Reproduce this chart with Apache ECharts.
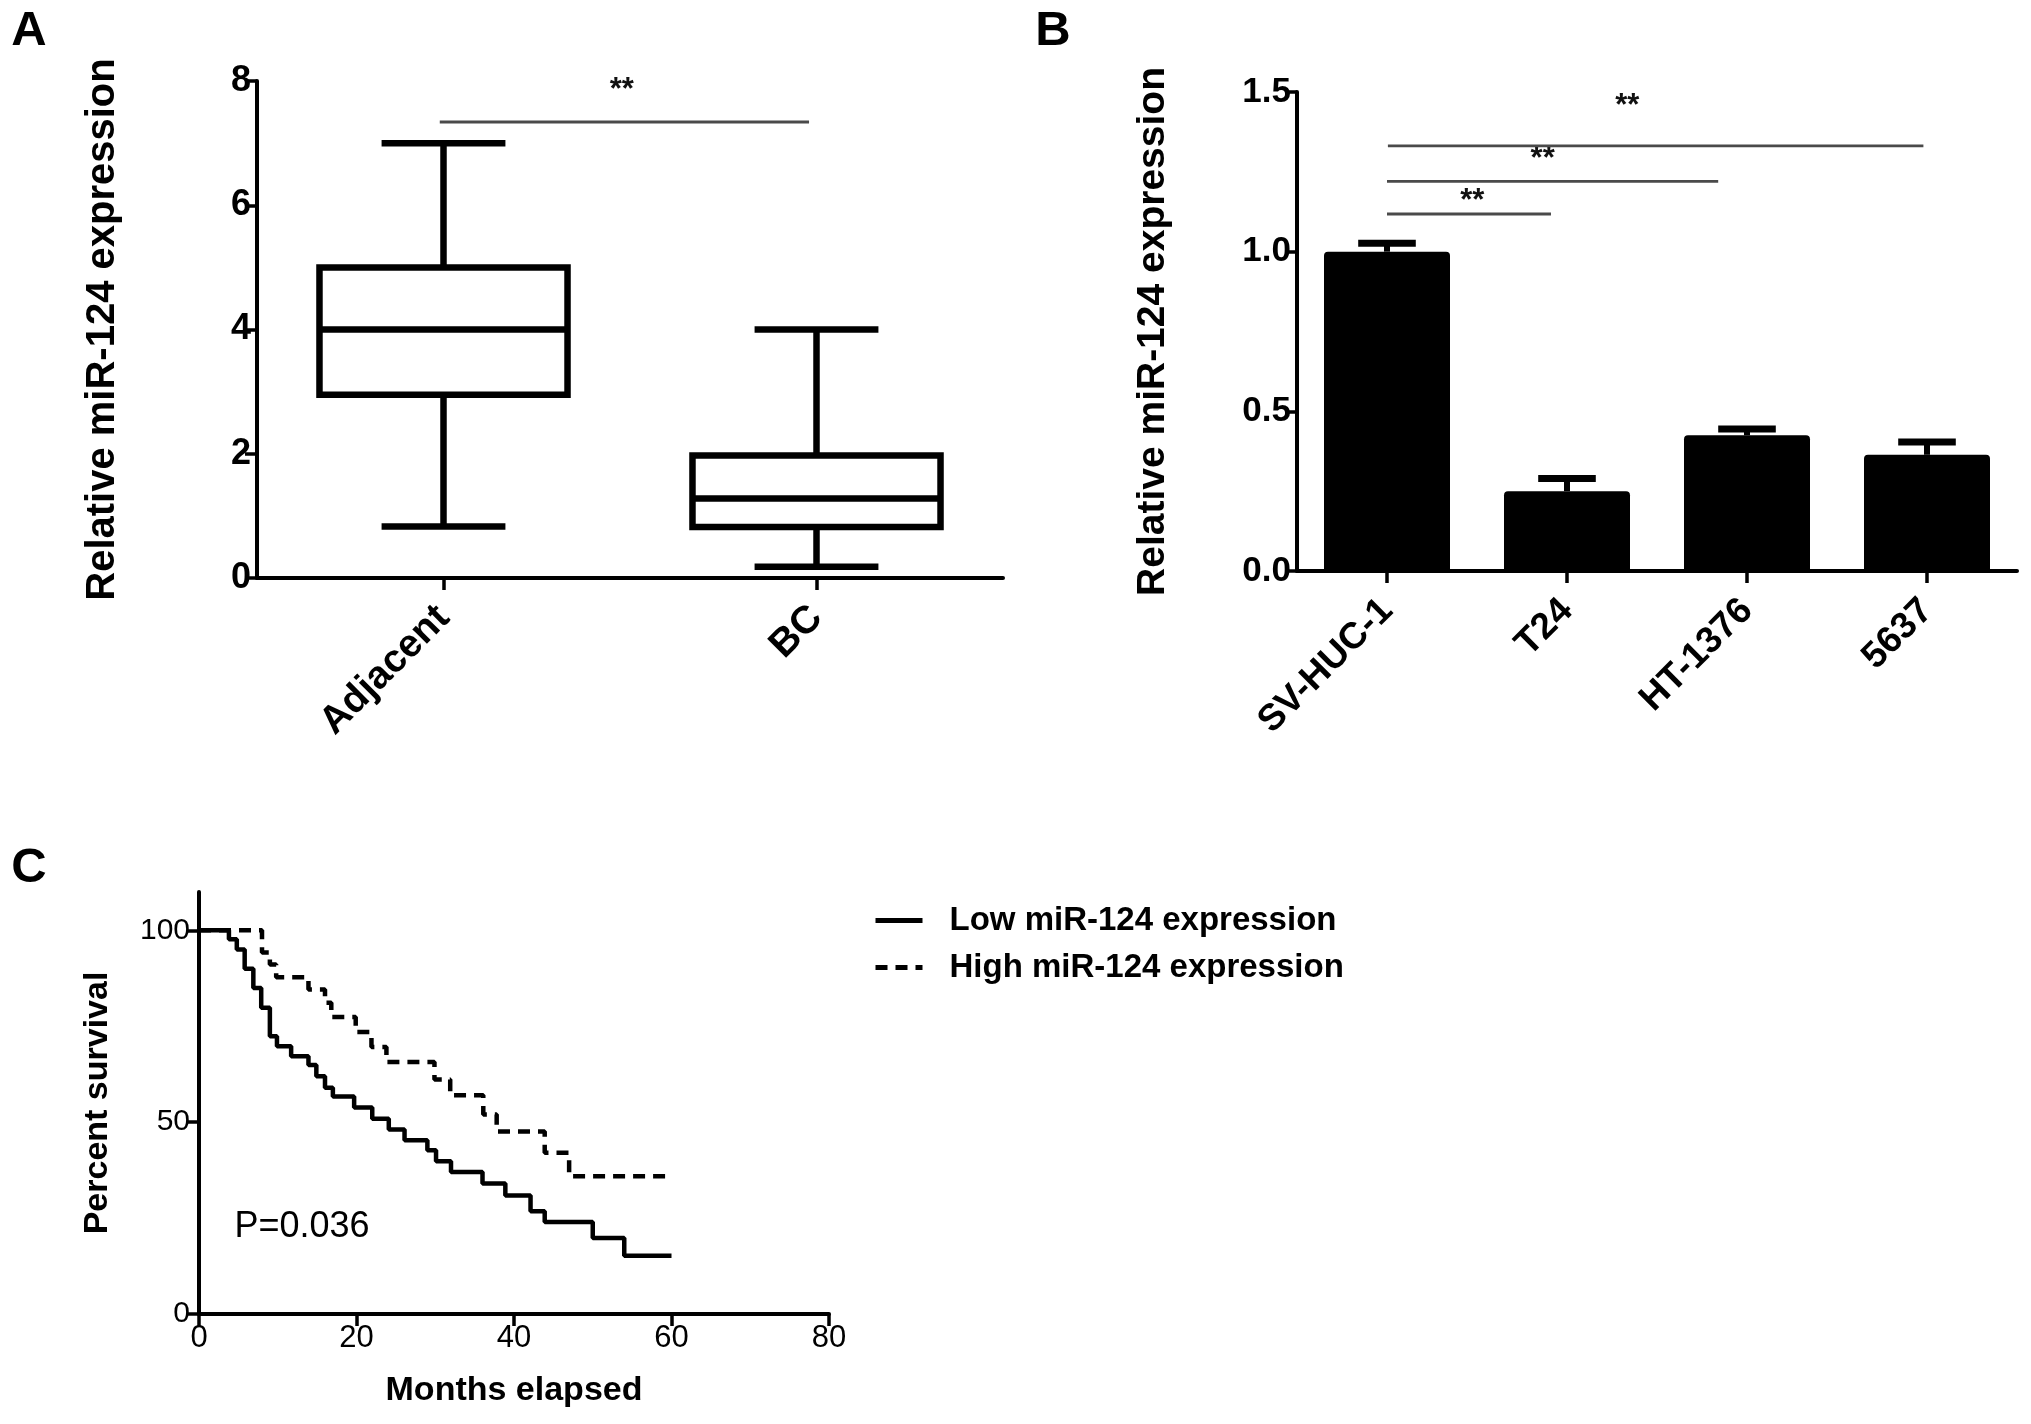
<!DOCTYPE html>
<html>
<head>
<meta charset="utf-8">
<script src="https://cdn.jsdelivr.net/npm/echarts@6/dist/echarts.min.js"></script>
<style>
html,body{margin:0;padding:0;background:#ffffff;}
#chart{width:2031px;height:1424px;}
</style>
</head>
<body>
<div id="chart"></div>
<script>
// ---------- Panel A : tissue box plot ----------
const tissueCategories = ['Adjacent', 'BC'];
// [min, Q1, median, Q3, max]
const boxAdjacent = [0.83, 2.95, 4.0, 5.0, 7.0];
const boxBC = [0.18, 0.82, 1.28, 1.97, 4.0];
const yTicksA = [0, 2, 4, 6, 8];
// significance: [fromIndex, toIndex, lineValue, starValue]
const sigA = [[0, 1, 7.34, 7.84]];

// ---------- Panel B : cell line bars ----------
const cellCategories = ['SV-HUC-1', 'T24', 'HT-1376', '5637'];
const cellMeans = [1.0, 0.25, 0.425, 0.364];
const cellErrors = [0.026, 0.04, 0.02, 0.04];
const yTicksB = [0, 0.5, 1.0, 1.5];
const sigB = [[0, 1, 1.118, 1.156], [0, 2, 1.22, 1.288], [0, 3, 1.331, 1.456]];
const sigText = '**';

// ---------- Panel C : Kaplan-Meier ----------
const lowMonths   = [0, 3.8, 4.8, 5.8, 6.9, 7.9, 9.0, 9.9, 11.7, 13.9, 14.9, 16.0, 17.0, 19.7, 22.0, 24.1, 26.1, 29.0, 30.1, 32.0, 36.0, 38.9, 42.1, 43.9, 50.0, 54.0, 60.0];
const lowSurvival = [100, 97.7, 95.0, 90.0, 85.0, 79.8, 72.4, 69.8, 67.2, 64.9, 62.0, 59.0, 56.7, 53.8, 50.9, 48.1, 45.3, 42.7, 39.8, 37.0, 34.0, 30.9, 26.8, 24.0, 19.8, 15.2, 15.2];
const highMonths   = [0, 8.0, 9.0, 9.8, 13.9, 16.0, 16.8, 19.9, 21.9, 23.8, 29.9, 31.9, 36.1, 37.8, 43.9, 47.0, 60.0];
const highSurvival = [100, 94.2, 91.1, 87.8, 84.6, 81.1, 77.4, 73.5, 69.6, 65.7, 61.1, 57.0, 52.0, 47.6, 42.0, 35.9, 35.9];
const seriesNamesC = ['Low miR-124 expression', 'High miR-124 expression'];
const pValueText = 'P=0.036';
const pValuePos = [4.5, 22.6];
const xTicksC = [0, 20, 40, 60, 80];
const yTicksC = [0, 50, 100];

// ---------- styling helpers (not data) ----------
const FONT = "'Liberation Sans', Arial, Helvetica, sans-serif";
const BLACK = '#000000';
const sigStyleA = { startOff: [-0.01], endOff: [-0.02], starT: [0.493] };
const sigStyleB = { startOff: [0, 0, 0.005], endOff: [-0.089, -0.16, -0.02], starT: [0.52, 0.47, 0.447] };

function sigRenderer(st) {
  return function (params, api) {
    const i = params.dataIndex;
    const band = api.size([1, 0])[0];
    const p1 = api.coord([api.value(0), api.value(2)]);
    const p2 = api.coord([api.value(1), api.value(2)]);
    const x1 = p1[0] + st.startOff[i] * band;
    const x2 = p2[0] + st.endOff[i] * band;
    const ys = api.coord([api.value(0), api.value(3)])[1];
    return {
      type: 'group',
      children: [
        { type: 'line', shape: { x1: x1, y1: p1[1], x2: x2, y2: p1[1] },
          style: { stroke: '#4a4a4a', lineWidth: 2.8 } },
        { type: 'text', x: x1 + st.starT[i] * (x2 - x1), y: ys,
          style: { text: sigText, fill: '#111111', font: 'bold 31px ' + FONT, align: 'center', verticalAlign: 'middle' } }
      ]
    };
  };
}

function boxRenderer(params, api) {
  const idx = api.value(0);
  const band = api.size([1, 0])[0];
  const cx = api.coord([idx, 0])[0];
  const bw = band * 0.665 / 2;
  const cw = band * 0.332 / 2;
  const y = k => api.coord([idx, api.value(k)])[1];
  const st = { stroke: BLACK, lineWidth: 6.5, fill: null };
  return {
    type: 'group',
    children: [
      { type: 'line', shape: { x1: cx, y1: y(5), x2: cx, y2: y(4) }, style: st },
      { type: 'line', shape: { x1: cx, y1: y(2), x2: cx, y2: y(1) }, style: st },
      { type: 'line', shape: { x1: cx - cw, y1: y(5), x2: cx + cw, y2: y(5) }, style: st },
      { type: 'line', shape: { x1: cx - cw, y1: y(1), x2: cx + cw, y2: y(1) }, style: st },
      { type: 'rect', shape: { x: cx - bw, y: y(4), width: 2 * bw, height: y(2) - y(4) }, style: { stroke: BLACK, lineWidth: 6.5, fill: '#ffffff' } },
      { type: 'line', shape: { x1: cx - bw, y1: y(3), x2: cx + bw, y2: y(3) }, style: st }
    ]
  };
}

function errRenderer(params, api) {
  const idx = api.value(0);
  const band = api.size([1, 0])[0];
  const top = api.coord([idx, api.value(1)]);
  const cap = api.coord([idx, api.value(2)]);
  const cw = band * 0.16;
  return {
    type: 'group',
    children: [
      { type: 'line', shape: { x1: top[0], y1: top[1], x2: top[0], y2: cap[1] }, style: { stroke: BLACK, lineWidth: 6 } },
      { type: 'line', shape: { x1: top[0] - cw, y1: cap[1], x2: top[0] + cw, y2: cap[1] }, style: { stroke: BLACK, lineWidth: 7 } }
    ]
  };
}

const axisLineStyle = { show: true, lineStyle: { color: BLACK, width: 4 } };
const tickStyle = { show: true, inside: false, length: 12, lineStyle: { color: BLACK, width: 3.5 } };

const chart = echarts.init(document.getElementById('chart'), null, { renderer: 'canvas' });

const option = {
  backgroundColor: '#ffffff',
  animation: false,
  textStyle: { fontFamily: FONT, color: BLACK },
  graphic: [
    { type: 'text', x: 29, y: 31, style: { text: 'A', font: 'bold 49px ' + FONT, fill: BLACK, align: 'center', verticalAlign: 'middle' } },
    { type: 'text', x: 1053, y: 31, style: { text: 'B', font: 'bold 49px ' + FONT, fill: BLACK, align: 'center', verticalAlign: 'middle' } },
    { type: 'text', x: 29, y: 868, style: { text: 'C', font: 'bold 49px ' + FONT, fill: BLACK, align: 'center', verticalAlign: 'middle' } }
  ],
  legend: {
    orient: 'vertical',
    left: 868,
    top: 899,
    itemWidth: 47,
    itemHeight: 14,
    itemGap: 14,
    data: seriesNamesC,
    itemStyle: { opacity: 0 },
    lineStyle: { width: 5 },
    textStyle: { fontFamily: FONT, fontSize: 33, fontWeight: 'bold', color: BLACK, padding: [0, 0, 0, 22] }
  },
  grid: [
    { left: 257, top: 81, width: 746, height: 497 },
    { left: 1297, top: 92, width: 720, height: 479 },
    { left: 199, top: 892, width: 630, height: 422 }
  ],
  xAxis: [
    {
      gridIndex: 0, type: 'category', data: tissueCategories, boundaryGap: true,
      axisLine: axisLineStyle,
      axisTick: Object.assign({ alignWithLabel: true }, tickStyle),
      axisLabel: { rotate: 45, margin: 34, fontSize: 39, fontWeight: 'bold', color: BLACK, fontFamily: FONT, interval: 0 },
      splitLine: { show: false }
    },
    {
      gridIndex: 1, type: 'category', data: cellCategories, boundaryGap: true,
      axisLine: axisLineStyle,
      axisTick: Object.assign({ alignWithLabel: true }, tickStyle),
      axisLabel: { rotate: 45, margin: 34, fontSize: 37, fontWeight: 'bold', color: BLACK, fontFamily: FONT, interval: 0 },
      splitLine: { show: false }
    },
    {
      gridIndex: 2, type: 'value', min: xTicksC[0], max: xTicksC[xTicksC.length - 1], interval: 20,
      axisLine: axisLineStyle, axisTick: tickStyle,
      axisLabel: { margin: 9, fontSize: 31, color: BLACK, fontFamily: FONT },
      splitLine: { show: false },
      name: 'Months elapsed', nameLocation: 'middle', nameGap: 60,
      nameTextStyle: { fontSize: 34, fontWeight: 'bold', color: BLACK, fontFamily: FONT }
    }
  ],
  yAxis: [
    {
      gridIndex: 0, type: 'value', min: yTicksA[0], max: yTicksA[yTicksA.length - 1], interval: 2,
      axisLine: axisLineStyle, axisTick: tickStyle,
      axisLabel: { margin: 6, fontSize: 36, fontWeight: 'bold', color: BLACK, fontFamily: FONT },
      splitLine: { show: false },
      name: 'Relative miR-124 expression', nameLocation: 'middle', nameGap: 134, nameRotate: 90,
      nameTextStyle: { fontSize: 40, fontWeight: 'bold', color: BLACK, fontFamily: FONT }
    },
    {
      gridIndex: 1, type: 'value', min: yTicksB[0], max: yTicksB[yTicksB.length - 1], interval: 0.5,
      axisLine: axisLineStyle, axisTick: tickStyle,
      axisLabel: { margin: 6, fontSize: 35, fontWeight: 'bold', color: BLACK, fontFamily: FONT,
                   formatter: v => v.toFixed(1) },
      splitLine: { show: false },
      name: 'Relative miR-124 expression', nameLocation: 'middle', nameGap: 124, nameRotate: 90,
      nameTextStyle: { fontSize: 39, fontWeight: 'bold', color: BLACK, fontFamily: FONT }
    },
    {
      gridIndex: 2, type: 'value', min: 0, max: 110, interval: 50,
      axisLine: axisLineStyle,
      axisTick: Object.assign({ customValues: yTicksC }, tickStyle),
      axisLabel: { customValues: yTicksC, margin: 9, fontSize: 30, color: BLACK, fontFamily: FONT },
      splitLine: { show: false },
      name: 'Percent survival', nameLocation: 'middle', nameGap: 84, nameRotate: 90,
      nameTextStyle: { fontSize: 34, fontWeight: 'bold', color: BLACK, fontFamily: FONT }
    }
  ],
  series: [
    {
      type: 'custom', name: 'box', xAxisIndex: 0, yAxisIndex: 0,
      renderItem: boxRenderer,
      encode: { x: 0, y: [1, 2, 3, 4, 5] },
      data: [[0].concat(boxAdjacent), [1].concat(boxBC)],
      z: 3
    },
    {
      type: 'custom', name: 'sigA', xAxisIndex: 0, yAxisIndex: 0,
      renderItem: sigRenderer(sigStyleA),
      encode: { x: [0, 1], y: [2, 3] },
      data: sigA, z: 4
    },
    {
      type: 'bar', name: 'cells', xAxisIndex: 1, yAxisIndex: 1,
      data: cellMeans, barWidth: '70%',
      itemStyle: { color: BLACK, borderRadius: [4, 4, 0, 0] }, z: 2
    },
    {
      type: 'custom', name: 'err', xAxisIndex: 1, yAxisIndex: 1,
      renderItem: errRenderer,
      encode: { x: 0, y: [1, 2] },
      data: cellMeans.map((m, i) => [i, m, m + cellErrors[i]]), z: 3
    },
    {
      type: 'custom', name: 'sigB', xAxisIndex: 1, yAxisIndex: 1,
      renderItem: sigRenderer(sigStyleB),
      encode: { x: [0, 1], y: [2, 3] },
      data: sigB, z: 4
    },
    {
      type: 'line', name: seriesNamesC[0], xAxisIndex: 2, yAxisIndex: 2,
      step: 'end', symbol: 'none', showSymbol: false,
      lineStyle: { color: BLACK, width: 4.5, type: 'solid' },
      itemStyle: { color: BLACK },
      data: lowMonths.map((m, i) => [m, lowSurvival[i]]), z: 3
    },
    {
      type: 'line', name: seriesNamesC[1], xAxisIndex: 2, yAxisIndex: 2,
      step: 'end', symbol: 'none', showSymbol: false,
      lineStyle: { color: BLACK, width: 4.5, type: [12, 8] },
      itemStyle: { color: BLACK },
      data: highMonths.map((m, i) => [m, highSurvival[i]]), z: 3
    },
    {
      type: 'scatter', name: 'pvalue', xAxisIndex: 2, yAxisIndex: 2,
      symbolSize: 0, data: [pValuePos], silent: true,
      itemStyle: { opacity: 1, color: BLACK },
      label: { show: true, position: 'right', distance: 0, formatter: pValueText,
               fontSize: 36, color: '#000000', opacity: 1, fontFamily: FONT }
    }
  ]
};
chart.setOption(option);
</script>
</body>
</html>
